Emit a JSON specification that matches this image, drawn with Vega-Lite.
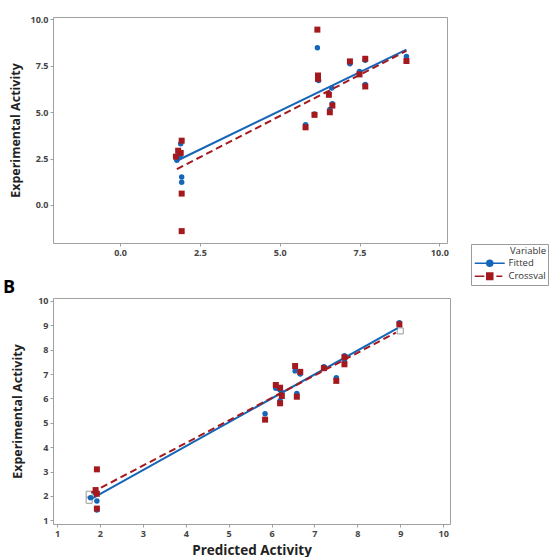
{
  "$schema": "https://vega.github.io/schema/vega-lite/v6.json",
  "padding": {"left": 2, "top": 14, "right": 0, "bottom": 0},
  "background": "white",
  "datasets": {
    "pts": [
      {"model": "MLR", "variable": "Fitted", "pred": 1.78, "exp": 2.40},
      {"model": "MLR", "variable": "Fitted", "pred": 1.85, "exp": 2.75},
      {"model": "MLR", "variable": "Fitted", "pred": 1.90, "exp": 3.30},
      {"model": "MLR", "variable": "Fitted", "pred": 1.88, "exp": 2.60},
      {"model": "MLR", "variable": "Fitted", "pred": 1.93, "exp": 1.50},
      {"model": "MLR", "variable": "Fitted", "pred": 1.93, "exp": 1.22},
      {"model": "MLR", "variable": "Fitted", "pred": 5.81, "exp": 4.32},
      {"model": "MLR", "variable": "Fitted", "pred": 6.09, "exp": 4.90},
      {"model": "MLR", "variable": "Fitted", "pred": 6.18, "exp": 8.47},
      {"model": "MLR", "variable": "Fitted", "pred": 6.22, "exp": 6.70},
      {"model": "MLR", "variable": "Fitted", "pred": 6.57, "exp": 5.14},
      {"model": "MLR", "variable": "Fitted", "pred": 6.54, "exp": 6.00},
      {"model": "MLR", "variable": "Fitted", "pred": 6.63, "exp": 6.29},
      {"model": "MLR", "variable": "Fitted", "pred": 6.65, "exp": 5.45},
      {"model": "MLR", "variable": "Fitted", "pred": 7.20, "exp": 7.60},
      {"model": "MLR", "variable": "Fitted", "pred": 7.50, "exp": 7.19},
      {"model": "MLR", "variable": "Fitted", "pred": 7.68, "exp": 7.79},
      {"model": "MLR", "variable": "Fitted", "pred": 7.68, "exp": 6.49},
      {"model": "MLR", "variable": "Fitted", "pred": 8.97, "exp": 8.00},
      {"model": "MLR", "variable": "Crossval", "pred": 1.75, "exp": 2.60},
      {"model": "MLR", "variable": "Crossval", "pred": 1.82, "exp": 2.92},
      {"model": "MLR", "variable": "Crossval", "pred": 1.90, "exp": 2.80},
      {"model": "MLR", "variable": "Crossval", "pred": 1.93, "exp": 3.46},
      {"model": "MLR", "variable": "Crossval", "pred": 1.93, "exp": 0.61},
      {"model": "MLR", "variable": "Crossval", "pred": 1.93, "exp": -1.41},
      {"model": "MLR", "variable": "Crossval", "pred": 5.81, "exp": 4.18},
      {"model": "MLR", "variable": "Crossval", "pred": 6.09, "exp": 4.85},
      {"model": "MLR", "variable": "Crossval", "pred": 6.18, "exp": 9.44},
      {"model": "MLR", "variable": "Crossval", "pred": 6.20, "exp": 6.97},
      {"model": "MLR", "variable": "Crossval", "pred": 6.20, "exp": 6.79},
      {"model": "MLR", "variable": "Crossval", "pred": 6.54, "exp": 5.93},
      {"model": "MLR", "variable": "Crossval", "pred": 6.57, "exp": 4.99},
      {"model": "MLR", "variable": "Crossval", "pred": 6.65, "exp": 5.35},
      {"model": "MLR", "variable": "Crossval", "pred": 7.20, "exp": 7.73},
      {"model": "MLR", "variable": "Crossval", "pred": 7.50, "exp": 7.03},
      {"model": "MLR", "variable": "Crossval", "pred": 7.68, "exp": 7.87},
      {"model": "MLR", "variable": "Crossval", "pred": 7.68, "exp": 6.38},
      {"model": "MLR", "variable": "Crossval", "pred": 8.97, "exp": 7.75},
      {"model": "SW", "variable": "Fitted", "pred": 1.78, "exp": 1.93},
      {"model": "SW", "variable": "Fitted", "pred": 1.93, "exp": 1.79},
      {"model": "SW", "variable": "Fitted", "pred": 1.93, "exp": 1.42},
      {"model": "SW", "variable": "Fitted", "pred": 1.90, "exp": 2.10},
      {"model": "SW", "variable": "Fitted", "pred": 5.85, "exp": 5.37},
      {"model": "SW", "variable": "Fitted", "pred": 6.10, "exp": 6.42},
      {"model": "SW", "variable": "Fitted", "pred": 6.20, "exp": 6.35},
      {"model": "SW", "variable": "Fitted", "pred": 6.24, "exp": 6.24},
      {"model": "SW", "variable": "Fitted", "pred": 6.20, "exp": 5.90},
      {"model": "SW", "variable": "Fitted", "pred": 6.55, "exp": 7.13},
      {"model": "SW", "variable": "Fitted", "pred": 6.67, "exp": 7.00},
      {"model": "SW", "variable": "Fitted", "pred": 6.59, "exp": 6.20},
      {"model": "SW", "variable": "Fitted", "pred": 7.22, "exp": 7.30},
      {"model": "SW", "variable": "Fitted", "pred": 7.51, "exp": 6.85},
      {"model": "SW", "variable": "Fitted", "pred": 7.70, "exp": 7.75},
      {"model": "SW", "variable": "Fitted", "pred": 7.70, "exp": 7.50},
      {"model": "SW", "variable": "Fitted", "pred": 8.98, "exp": 9.10},
      {"model": "SW", "variable": "Crossval", "pred": 1.93, "exp": 3.09},
      {"model": "SW", "variable": "Crossval", "pred": 1.90, "exp": 2.24},
      {"model": "SW", "variable": "Crossval", "pred": 1.93, "exp": 2.09},
      {"model": "SW", "variable": "Crossval", "pred": 1.93, "exp": 1.48},
      {"model": "SW", "variable": "Crossval", "pred": 5.85, "exp": 5.13},
      {"model": "SW", "variable": "Crossval", "pred": 6.10, "exp": 6.55},
      {"model": "SW", "variable": "Crossval", "pred": 6.20, "exp": 6.44},
      {"model": "SW", "variable": "Crossval", "pred": 6.24, "exp": 6.10},
      {"model": "SW", "variable": "Crossval", "pred": 6.20, "exp": 5.80},
      {"model": "SW", "variable": "Crossval", "pred": 6.55, "exp": 7.33},
      {"model": "SW", "variable": "Crossval", "pred": 6.67, "exp": 7.09},
      {"model": "SW", "variable": "Crossval", "pred": 6.59, "exp": 6.07},
      {"model": "SW", "variable": "Crossval", "pred": 7.22, "exp": 7.24},
      {"model": "SW", "variable": "Crossval", "pred": 7.51, "exp": 6.72},
      {"model": "SW", "variable": "Crossval", "pred": 7.70, "exp": 7.69},
      {"model": "SW", "variable": "Crossval", "pred": 7.70, "exp": 7.40},
      {"model": "SW", "variable": "Crossval", "pred": 8.98, "exp": 9.04}
    ],
    "lines": [
      {"model": "MLR", "variable": "Fitted", "pred": 1.78, "exp": 2.38},
      {"model": "MLR", "variable": "Fitted", "pred": 8.97, "exp": 8.36},
      {"model": "MLR", "variable": "Crossval", "pred": 1.78, "exp": 1.93},
      {"model": "MLR", "variable": "Crossval", "pred": 8.97, "exp": 8.30},
      {"model": "SW", "variable": "Fitted", "pred": 1.78, "exp": 1.86},
      {"model": "SW", "variable": "Fitted", "pred": 8.94, "exp": 8.88},
      {"model": "SW", "variable": "Crossval", "pred": 1.80, "exp": 2.13},
      {"model": "SW", "variable": "Crossval", "pred": 8.90, "exp": 8.70}
    ],
    "hollow": [
      {"model": "SW", "pred": 1.75, "exp": 2.07},
      {"model": "SW", "pred": 1.75, "exp": 1.82},
      {"model": "SW", "pred": 9.00, "exp": 8.77}
    ]
  },
  "vconcat": [
    {
      "width": 394,
      "height": 226,
      "encoding": {
        "x": {"field": "pred", "type": "quantitative",
              "scale": {"domain": [-2.10, 10.24], "nice": false, "zero": false},
              "axis": {"values": [0, 2.5, 5, 7.5, 10], "format": ".1f", "title": null}},
        "y": {"field": "exp", "type": "quantitative",
              "scale": {"domain": [-2.05, 10.12], "nice": false, "zero": false},
              "axis": {"values": [0, 2.5, 5, 7.5, 10], "format": ".1f", "title": "Experimental Activity", "titlePadding": 7}}
      },
      "layer": [
        {"data": {"name": "pts"},
         "transform": [{"filter": "false"}],
         "mark": {"type": "point", "filled": true, "opacity": 1, "size": 36, "strokeWidth": 1.5},
         "encoding": {
           "fill": {"field": "variable", "type": "nominal",
             "scale": {"domain": ["Fitted", "Crossval"], "range": ["#1565b8", "#a3191e"]},
             "legend": {"title": "Variable", "orient": "none", "legendX": 418, "legendY": 227,
               "symbolSize": 36, "symbolStrokeWidth": 1.5, "labelOffset": 26, "padding": 2, "rowPadding": 0,
               "titlePadding": 3, "titleAnchor": "end", "strokeColor": "#9a9a9a", "fillColor": "white",
               "titleFont": "Open Sans", "titleFontSize": 9.5, "titleFontWeight": "normal", "titleColor": "#333",
               "labelFont": "Open Sans", "labelFontSize": 9.5, "labelColor": "#333"}},
           "stroke": {"field": "variable", "type": "nominal",
             "scale": {"domain": ["Fitted", "Crossval"], "range": ["#1565b8", "#a3191e"]},
             "legend": {"title": "Variable", "orient": "none", "legendX": 418, "legendY": 227,
               "symbolSize": 36, "symbolStrokeWidth": 1.5, "labelOffset": 26, "padding": 2, "rowPadding": 0,
               "titlePadding": 3, "titleAnchor": "end", "strokeColor": "#9a9a9a", "fillColor": "white",
               "titleFont": "Open Sans", "titleFontSize": 9.5, "titleFontWeight": "normal", "titleColor": "#333",
               "labelFont": "Open Sans", "labelFontSize": 9.5, "labelColor": "#333"}},
           "shape": {"field": "variable", "type": "nominal",
             "scale": {"domain": ["Fitted", "Crossval"],
                       "range": ["M-1,0L9,0M5,0A1,1,0,1,1,3,0A1,1,0,1,1,5,0Z", "M-1,0L2.2,0M3,-1.1L5,-1.1L5,1.1L3,1.1ZM6.2,0L8.2,0"]},
             "legend": {"title": "Variable", "orient": "none", "legendX": 418, "legendY": 227,
               "symbolSize": 36, "symbolStrokeWidth": 1.5, "labelOffset": 26, "padding": 2, "rowPadding": 0,
               "titlePadding": 3, "titleAnchor": "end", "strokeColor": "#9a9a9a", "fillColor": "white",
               "titleFont": "Open Sans", "titleFontSize": 9.5, "titleFontWeight": "normal", "titleColor": "#333",
               "labelFont": "Open Sans", "labelFontSize": 9.5, "labelColor": "#333"}}
         }},
        {"data": {"name": "pts"},
         "transform": [{"filter": "datum.model === 'MLR' && datum.variable === 'Fitted'"}],
         "mark": {"type": "point", "shape": "circle", "filled": true, "size": 30, "opacity": 1},
         "encoding": {"color": {"field": "variable", "type": "nominal",
            "scale": {"domain": ["Fitted", "Crossval"], "range": ["#1565b8", "#a3191e"]}, "legend": null}}},
        {"data": {"name": "lines"},
         "transform": [{"filter": "datum.model === 'MLR' && datum.variable === 'Fitted'"}],
         "mark": {"type": "line", "strokeWidth": 2},
         "encoding": {"color": {"field": "variable", "type": "nominal", "legend": null}}},
        {"data": {"name": "pts"},
         "transform": [{"filter": "datum.model === 'MLR' && datum.variable === 'Crossval'"}],
         "mark": {"type": "point", "shape": "square", "filled": true, "size": 36, "opacity": 1},
         "encoding": {"color": {"field": "variable", "type": "nominal", "legend": null}}},
        {"data": {"name": "lines"},
         "transform": [{"filter": "datum.model === 'MLR' && datum.variable === 'Crossval'"}],
         "mark": {"type": "line", "strokeWidth": 2, "strokeDash": [7, 4]},
         "encoding": {"color": {"field": "variable", "type": "nominal", "legend": null}}},
        {"data": {"values": [{}]},
         "mark": {"type": "text", "text": "MLR model", "align": "left", "baseline": "middle",
                  "font": "Open Sans", "fontSize": 16, "fontWeight": "bold", "color": "#1a1a1a"},
         "encoding": {"x": {"datum": -1.66, "type": "quantitative"}, "y": {"datum": 9.08, "type": "quantitative"}}}
      ]
    },
    {
      "width": 397,
      "height": 226,
      "title": {"text": "B", "anchor": "start", "frame": "group", "dx": -50, "offset": -14,
                "font": "Open Sans", "fontSize": 18, "fontWeight": "bold", "color": "#000", "baseline": "alphabetic"},
      "encoding": {
        "x": {"field": "pred", "type": "quantitative",
              "scale": {"domain": [0.907, 10.16], "nice": false, "zero": false},
              "axis": {"values": [1, 2, 3, 4, 5, 6, 7, 8, 9, 10], "format": "d", "title": "Predicted Activity", "titlePadding": 5, "titleFontSize": 13.5}},
        "y": {"field": "exp", "type": "quantitative",
              "scale": {"domain": [0.848, 10.12], "nice": false, "zero": false},
              "axis": {"values": [1, 2, 3, 4, 5, 6, 7, 8, 9, 10], "format": "d", "title": "Experimental Activity", "titlePadding": 13}}
      },
      "layer": [
        {"data": {"name": "hollow"},
         "mark": {"type": "point", "shape": "square", "filled": true, "size": 36, "fill": "white", "stroke": "#9a9a9a", "strokeWidth": 1, "opacity": 1}},
        {"data": {"name": "pts"},
         "transform": [{"filter": "datum.model === 'SW' && datum.variable === 'Fitted'"}],
         "mark": {"type": "point", "shape": "circle", "filled": true, "size": 30, "opacity": 1},
         "encoding": {"color": {"field": "variable", "type": "nominal", "legend": null}}},
        {"data": {"name": "lines"},
         "transform": [{"filter": "datum.model === 'SW' && datum.variable === 'Fitted'"}],
         "mark": {"type": "line", "strokeWidth": 2},
         "encoding": {"color": {"field": "variable", "type": "nominal", "legend": null}}},
        {"data": {"name": "pts"},
         "transform": [{"filter": "datum.model === 'SW' && datum.variable === 'Crossval'"}],
         "mark": {"type": "point", "shape": "square", "filled": true, "size": 36, "opacity": 1},
         "encoding": {"color": {"field": "variable", "type": "nominal", "legend": null}}},
        {"data": {"name": "lines"},
         "transform": [{"filter": "datum.model === 'SW' && datum.variable === 'Crossval'"}],
         "mark": {"type": "line", "strokeWidth": 2, "strokeDash": [7, 4]},
         "encoding": {"color": {"field": "variable", "type": "nominal", "legend": null}}},
        {"data": {"values": [{}]},
         "mark": {"type": "text", "text": "SW model", "align": "left", "baseline": "middle",
                  "font": "Open Sans", "fontSize": 16, "fontWeight": "bold", "color": "#1a1a1a"},
         "encoding": {"x": {"datum": 1.26, "type": "quantitative"}, "y": {"datum": 9.4, "type": "quantitative"}}}
      ]
    }
  ],
  "spacing": 55,
  "bounds": "flush",
  "resolve": {"scale": {"x": "independent", "y": "independent", "color": "shared", "fill": "shared", "stroke": "shared", "shape": "shared"}},
  "config": {
    "view": {"stroke": "#a0a0a0", "strokeWidth": 1},
    "axis": {
      "domain": false, "grid": false, "ticks": true, "tickColor": "#a0a0a0", "tickSize": 3,
      "labelPadding": 2, "labelFont": "Open Sans", "labelFontSize": 9, "labelFontWeight": "bold",
      "labelColor": "#444", "labelFlush": false, "labelOverlap": false,
      "titleFont": "Open Sans", "titleFontSize": 12.5, "titleFontWeight": "bold", "titleColor": "#222"
    }
  }
}
